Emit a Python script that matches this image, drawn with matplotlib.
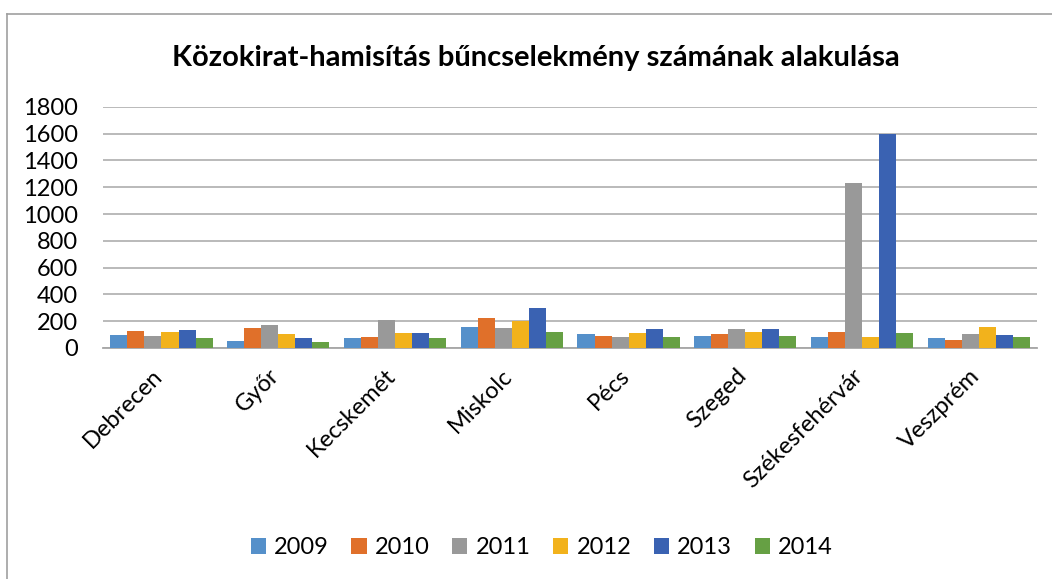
import matplotlib
matplotlib.use('Agg')
import numpy as np
import matplotlib.pyplot as plt
from matplotlib.lines import Line2D
from matplotlib.transforms import ScaledTranslation

plt.rcParams['font.family'] = ['Lato', 'DejaVu Sans']

cities = ['Debrecen', 'Győr', 'Kecskemét', 'Miskolc', 'Pécs', 'Szeged', 'Székesfehérvár', 'Veszprém']
years = ['2009', '2010', '2011', '2012', '2013', '2014']

v2009 = [100, 55, 77, 160, 107, 92, 85, 77]
v2010 = [130, 152, 85, 227, 92, 107, 122, 62]
v2011 = [92, 175, 212, 152, 85, 145, 1228, 107]
v2012 = [122, 107, 115, 205, 115, 120, 85, 160]
v2013 = [137, 77, 115, 295, 145, 145, 1600, 100]
v2014 = [77, 47, 77, 122, 85, 92, 115, 85]
series = [v2009, v2010, v2011, v2012, v2013, v2014]

colors = ['#5590CA', '#E0702A', '#999999', '#F2B21C', '#3A62B2', '#66A044']

fig = plt.figure(figsize=(10.52, 5.79), dpi=100)
ax = fig.add_axes([0.098, 0.399, 0.888, 0.4165])

x = np.arange(len(cities))
width = 0.875 / 6
for i, vals in enumerate(series):
    ax.bar(x - 0.4375 + width * (i + 0.5), vals, width, color=colors[i],
           label=years[i], zorder=3)

ax.set_xlim(-0.5, len(cities) - 0.5)
ax.set_ylim(0, 1800)
ax.set_yticks(np.arange(0, 1801, 200))
ax.yaxis.grid(True, color='#B4B4B4', linewidth=1.3, zorder=0)
for s in ['top', 'right', 'left']:
    ax.spines[s].set_visible(False)
ax.spines['bottom'].set_color('#A6A6A6')
ax.spines['bottom'].set_linewidth(1.3)
ax.tick_params(axis='both', length=0, labelsize=17)
ax.tick_params(axis='y', pad=18)
ax.set_xticks(x)
ax.set_xticklabels(cities, rotation=45, ha='right', va='top', rotation_mode='anchor')
ax.tick_params(axis='x', pad=8)
shift = ScaledTranslation(-0.1, -0.06, fig.dpi_scale_trans)
for lab in ax.get_xticklabels():
    lab.set_transform(lab.get_transform() + shift)

fig.text(0.509, 0.9, 'Közokirat-hamisítás bűncselekmény számának alakulása',
         ha='center', va='center', fontsize=21, fontweight='bold')

fig.legend(loc='center', bbox_to_anchor=(0.515, 0.054), ncol=6, frameon=False,
           fontsize=17, handlelength=0.64, handleheight=0.64, handletextpad=0.34,
           columnspacing=0.97)

# chart frame (only top and left edges visible)
fig.add_artist(Line2D([0.0067, 1.0], [0.9758, 0.9758], color='#A0A0A0', lw=1.2))
fig.add_artist(Line2D([0.0067, 0.0067], [0.0, 0.9758], color='#A0A0A0', lw=1.2))

fig.savefig('out.png', dpi=100)
